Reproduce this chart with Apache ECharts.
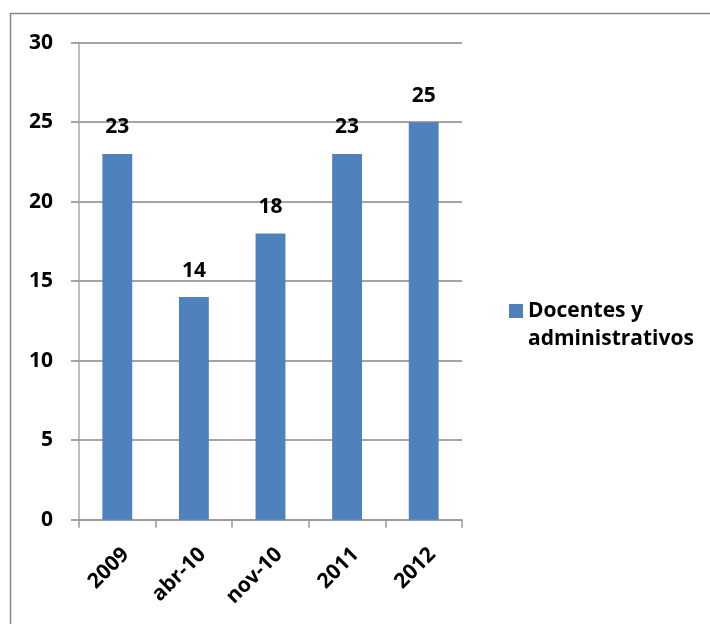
<!DOCTYPE html>
<html>
<head>
<meta charset="utf-8">
<script src="https://cdn.jsdelivr.net/npm/echarts@6/dist/echarts.min.js"></script>
<style>
  html, body { margin: 0; padding: 0; background: #fff; }
  #chart { width: 710px; height: 624px; }
</style>
</head>
<body>
<div id="chart"></div>
<script>
// datos
const categories = ['2009', 'abr-10', 'nov-10', '2011', '2012']
const seriesName = 'Docentes y\nadministrativos'
const values = [23, 14, 18, 23, 25]

const font = '"Open Sans", sans-serif'

const option = {
  animation: false,
  backgroundColor: '#fff',
  graphic: [{
    type: 'rect',
    shape: { x: 10.5, y: 13.5, width: 800, height: 700 },
    style: { fill: 'none', stroke: '#888', lineWidth: 1.5 },
    silent: true,
  }],
  legend: {
    data: [seriesName],
    left: 504,
    top: 264,
    orient: 'vertical',
    icon: 'rect',
    itemWidth: 14,
    itemHeight: 14,
    itemGap: 7,
    // linea vacia arriba para que el cuadro quede junto a la primera linea
    formatter: (name) => ' \n' + name,
    textStyle: {
      fontFamily: font,
      fontWeight: 'bold',
      fontSize: 21,
      color: '#000',
      lineHeight: 28,
    },
  },
  grid: {
    left: 79,
    right: 248,
    top: 42.7,
    bottom: 104.3,
    containLabel: false,
  },
  xAxis: {
    type: 'category',
    data: categories,
    axisLine: { lineStyle: { color: '#999', width: 1.5 } },
    axisTick: { show: true, length: 8, lineStyle: { color: '#999', width: 1.5 } },
    axisLabel: {
      rotate: 45,
      margin: 40,
      formatter: (v) => '{a|' + v + '}',
      rich: {
        a: {
          fontFamily: font,
          fontWeight: 'bold',
          fontSize: 21,
          color: '#000',
          padding: [0, -12, 0, 0],
        },
      },
    },
  },
  yAxis: {
    type: 'value',
    min: 0,
    max: 30,
    interval: 5,
    axisLine: { show: true, lineStyle: { color: '#aaa', width: 1.5 } },
    axisTick: { show: true, length: 8, lineStyle: { color: '#888', width: 1.5 } },
    splitLine: { lineStyle: { color: '#868686', width: 1.5 } },
    axisLabel: {
      margin: 26,
      fontFamily: font,
      fontWeight: 'bold',
      fontSize: 21,
      color: '#000',
    },
  },
  series: [{
    name: seriesName,
    type: 'bar',
    data: values,
    barWidth: '39%',
    itemStyle: { color: '#4F81BD' },
    label: {
      show: true,
      position: 'top',
      distance: 16,
      fontFamily: font,
      fontWeight: 'bold',
      fontSize: 21,
      color: '#000',
    },
  }],
}

const chart = echarts.init(document.getElementById('chart'))
chart.setOption(option)
</script>
</body>
</html>
